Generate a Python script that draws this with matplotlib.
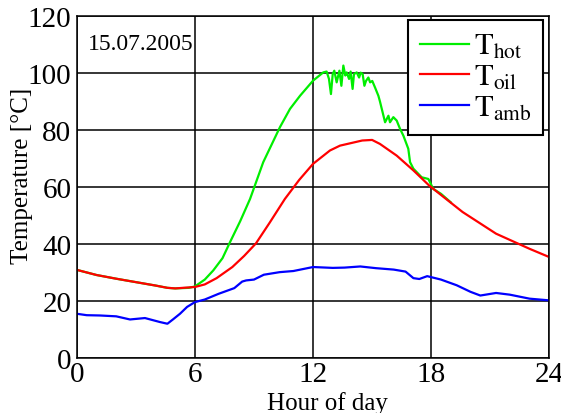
import matplotlib
matplotlib.use("Agg")
import matplotlib.pyplot as plt

plt.rcParams['font.family'] = ['Liberation Serif', 'DejaVu Serif']
plt.rcParams['mathtext.fontset'] = 'stix'

# readings from the reference (hour of day, temperature in degC)
oil_h = [0, 1, 2, 3, 4, 4.6, 5, 6, 6.5, 7.1, 7.9, 8.5, 9.1, 9.8, 10.57, 11.3, 12, 12.86, 13.37,
         14.5, 15, 15.4, 16.25, 17.1, 17.9, 18.5, 19.6, 21.3, 23, 24]
oil_t = [30.9, 29.1, 27.8, 26.6, 25.4, 24.6, 24.4, 24.9, 25.8, 28, 31.9, 35.8, 40.2, 47.5, 55.8,
         62.5, 68.1, 72.8, 74.5, 76.3, 76.5, 75.1, 71, 65.8, 60.5, 57.2, 51.2, 43.6, 38.3, 35.4]

hot_h = [0, 1, 2, 3, 4, 4.6, 5, 5.7, 6, 6.5, 6.93, 7.4, 7.78, 8.3, 8.8, 9.47, 10.32, 10.83,
         11.34, 12.0,
         12.52, 12.69, 12.81, 12.91, 13.0, 13.08, 13.2, 13.34, 13.44, 13.54, 13.64, 13.71,
         13.83, 13.91, 14.01, 14.08, 14.22, 14.34, 14.42, 14.52, 14.61, 14.69, 14.81, 14.9,
         15.01, 15.15, 15.32, 15.4, 15.66, 15.83, 15.91, 16.08, 16.25, 16.42, 16.59, 16.84,
         16.93, 17.1, 17.52, 17.86, 18.11, 18.5, 19.0]
hot_t = [30.9, 29.1, 27.8, 26.6, 25.4, 24.6, 24.4, 24.6, 25.1, 27.5, 30.7, 35, 40.6, 48, 55.8,
         68.7, 81, 87.4, 92, 97.3,
         100.2, 100.5, 97.9, 92.6, 99.6, 100.8, 96.7, 100.8, 95.5, 102.6, 99.1, 100.2,
         97.9, 100.5, 94.4, 99.6, 100.2, 98.4, 100.1, 99.6, 95.5, 97.2, 98.4, 96.7,
         97.2, 94.9, 92, 90, 82.7, 85, 82.7, 84.5, 83.3, 80.4, 78, 73.4,
         68.7, 66.4, 63.4, 62.8, 59.3, 57.6, 54.6]

amb_h = [0, 0.5, 1.17, 2, 2.7, 3.46, 4.22, 4.6, 4.88, 5.24, 5.6, 6, 6.5, 7.2, 8, 8.4, 8.6, 9,
         9.5, 10.3, 11, 12, 13, 13.6, 14.4, 15.2, 16.1, 16.7, 17.1, 17.4, 17.8, 18.5, 19.3,
         20, 20.5, 21.3, 22, 23, 24]
amb_t = [15.5, 15.0, 14.9, 14.6, 13.5, 14, 12.6, 12.0, 13.5, 15.5, 17.9, 19.6, 20.5, 22.5,
         24.5, 26.8, 27.2, 27.5, 29.2, 30.1, 30.5, 31.9, 31.6, 31.7, 32.1, 31.5, 31, 30.3,
         28.0, 27.7, 28.7, 27.5, 25.5, 23.2, 21.9, 22.8, 22.2, 20.8, 20.2]

x_ticks = [0, 6, 12, 18, 24]
y_ticks = [0, 20, 40, 60, 80, 100, 120]

fig = plt.figure(figsize=(5.61, 4.14), dpi=100)
ax = fig.add_axes([0.137, 0.133, 0.842, 0.826])

ax.plot(hot_h, hot_t, color='#00ee00', lw=1.6, label=r'$\mathrm{T_{hot}}$')
ax.plot(oil_h, oil_t, color='#ff0000', lw=1.6, label=r'$\mathrm{T_{oil}}$')
ax.plot(amb_h, amb_t, color='#0000ff', lw=1.6, label=r'$\mathrm{T_{amb}}$')

ax.set_xlim(0, 24)
ax.set_ylim(0, 120)
ax.set_xticks(x_ticks)
ax.set_yticks(y_ticks)
ax.grid(True, color='black', lw=1.1)
ax.tick_params(length=0, labelsize=21)
ax.tick_params(axis='x', pad=2)
ax.tick_params(axis='y', pad=4)
for s in ax.spines.values():
    s.set_linewidth(1.1)

ax.set_xlabel("Hour of day", fontsize=18)
ax.xaxis.set_label_coords(0.53, -0.098)
ax.set_ylabel("Temperature [°C]", fontsize=18)
ax.yaxis.set_label_coords(-0.093, 0.535)

ax.text(0.023, 0.92, "15.07.2005", transform=ax.transAxes, fontsize=17,
        va='center', ha='left')

leg = ax.legend(loc='upper right', bbox_to_anchor=(0.987, 0.988), borderaxespad=0,
                fontsize=22, fancybox=False, framealpha=1, edgecolor='black',
                handlelength=1.6, handletextpad=0.15, labelspacing=0.06,
                borderpad=0.4)
leg.get_frame().set_linewidth(1.5)

fig.savefig("out.png", dpi=100)
